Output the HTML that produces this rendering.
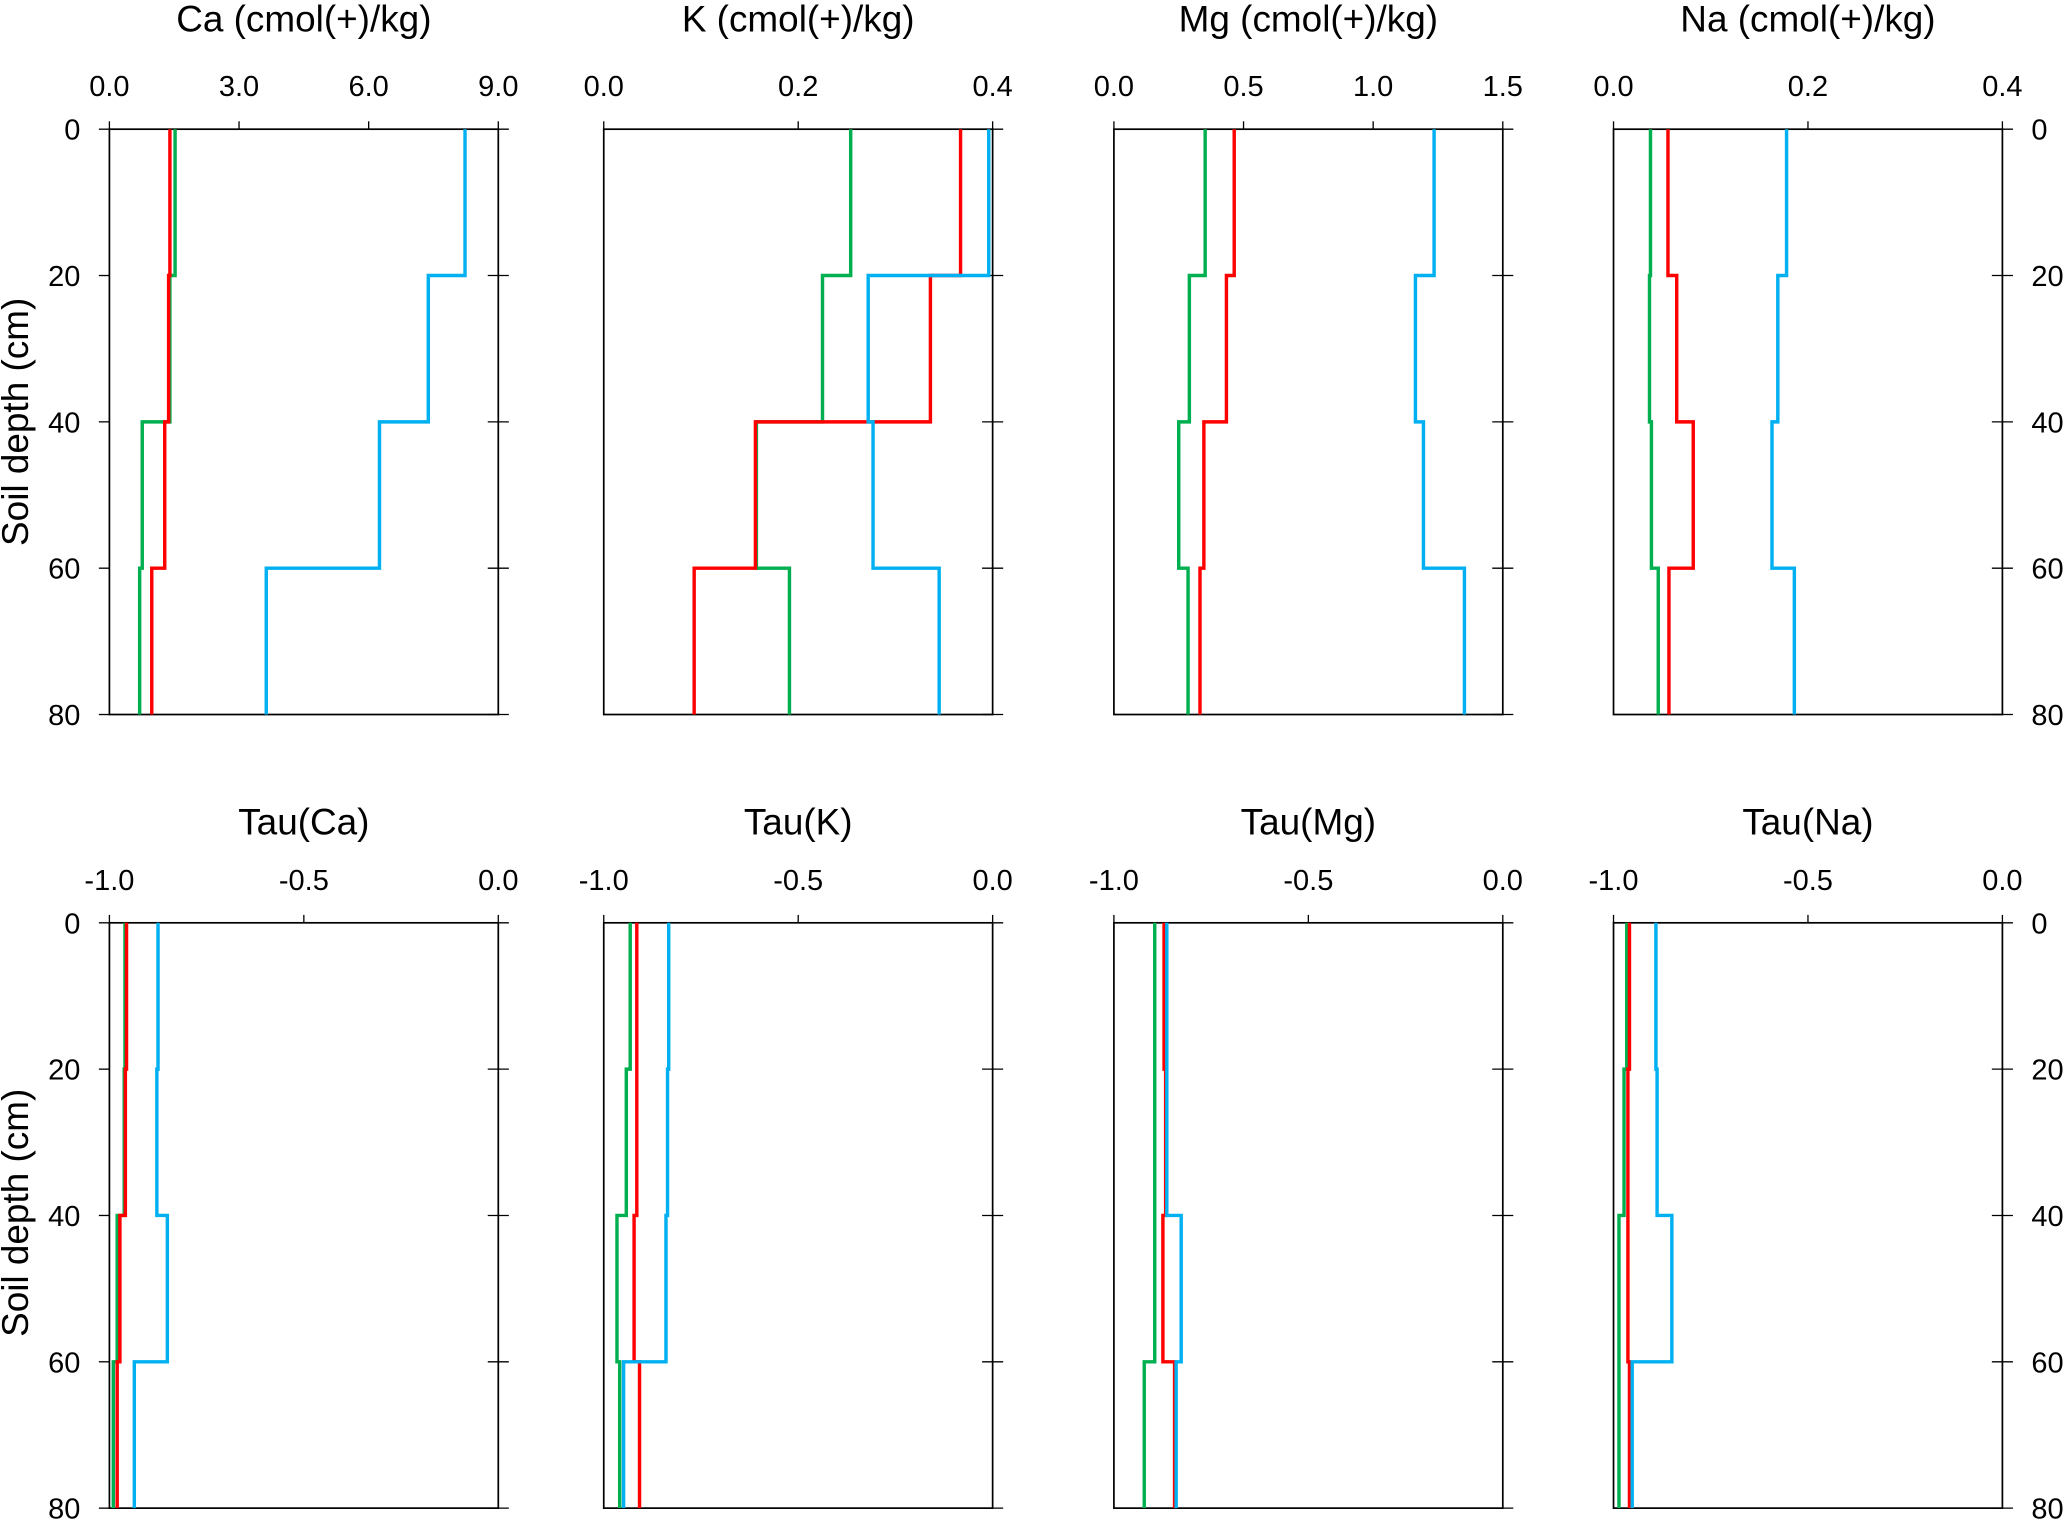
<!DOCTYPE html>
<html><head><meta charset="utf-8"><style>
html,body{margin:0;padding:0;background:#fff;}
svg{display:block;font-family:"Liberation Sans",sans-serif;}
</style></head><body>
<svg id="chart" width="2067" height="1520" viewBox="0 0 1568 1153" preserveAspectRatio="none" xmlns="http://www.w3.org/2000/svg"></svg>
<script>
const depths = [0, 20, 40, 60, 80];
const depthTicks = [0, 20, 40, 60, 80];
const panelTitles = ["Ca (cmol(+)/kg)", "K (cmol(+)/kg)", "Mg (cmol(+)/kg)", "Na (cmol(+)/kg)", "Tau(Ca)", "Tau(K)", "Tau(Mg)", "Tau(Na)"];
const xMins = [0, 0, 0, 0, -1, -1, -1, -1];
const xMaxs = [9, 0.4, 1.5, 0.4, 0, 0, 0, 0];
const xTickSets = [[0,3,6,9],[0,0.2,0.4],[0,0.5,1,1.5],[0,0.2,0.4],[-1,-0.5,0],[-1,-0.5,0],[-1,-0.5,0],[-1,-0.5,0]];
const redSeries = [
 [1.40,1.37,1.28,0.98],[0.367,0.336,0.156,0.093],[0.464,0.434,0.347,0.332],[0.056,0.065,0.082,0.057],
 [-0.956,-0.959,-0.973,-0.980],[-0.915,-0.915,-0.922,-0.908],[-0.871,-0.867,-0.874,-0.844],[-0.959,-0.963,-0.963,-0.959]];
const greenSeries = [
 [1.52,1.40,0.76,0.70],[0.254,0.225,0.157,0.191],[0.352,0.291,0.250,0.286],[0.038,0.037,0.039,0.046],
 [-0.960,-0.962,-0.980,-0.990],[-0.932,-0.942,-0.966,-0.959],[-0.895,-0.895,-0.895,-0.922],[-0.966,-0.973,-0.986,-0.986]];
const blueSeries = [
 [8.23,7.38,6.25,3.63],[0.396,0.272,0.277,0.345],[1.235,1.163,1.194,1.352],[0.178,0.169,0.163,0.186],
 [-0.875,-0.878,-0.851,-0.936],[-0.833,-0.836,-0.840,-0.949],[-0.864,-0.864,-0.827,-0.840],[-0.891,-0.888,-0.850,-0.952]];

const NS = "http://www.w3.org/2000/svg";
const svg = document.getElementById("chart");
const panelX = [83, 458, 845, 1224];
const panelW = 295;
const rowTop = [98, 700];
const panelH = 444;
function mk(tag, attrs, parent){const e=document.createElementNS(NS,tag);for(const k in attrs)e.setAttribute(k,attrs[k]);(parent||svg).appendChild(e);return e;}
function fmt(v){return v.toFixed(1);}

for(let p=0;p<8;p++){
  const col=p%4,row=Math.floor(p/4);
  const x0=panelX[col],y0=rowTop[row];
  const g=mk("g",{});
  
  
  const xs=v=>x0+(v-xMins[p])/(xMaxs[p]-xMins[p])*panelW;
  const ys=d=>y0+d/80*panelH;
  const t=mk("text",{x:x0+panelW/2,y:row?633:24,"text-anchor":"middle","font-size":28,fill:"#000"},g);
  t.textContent=panelTitles[p];
  
  
  const fr=mk("rect",{x:x0,y:y0,width:panelW,height:panelH,fill:"none",stroke:"#000","stroke-width":1.3},g);
  
  
  xTickSets[p].forEach(v=>{
    mk("line",{x1:xs(v),x2:xs(v),y1:y0,y2:y0-6,stroke:"#000","stroke-width":1},g);
    const tl=mk("text",{x:xs(v),y:y0-25,"text-anchor":"middle","font-size":22,fill:"#000"},g);
    tl.textContent=fmt(v);
    
    
  });
  depthTicks.forEach(d=>{
    mk("line",{x1:x0+panelW-8,x2:x0+panelW+8,y1:ys(d),y2:ys(d),stroke:"#000","stroke-width":1},g);
    if(col===0){
      mk("line",{x1:x0-8,x2:x0,y1:ys(d),y2:ys(d),stroke:"#000","stroke-width":1},g);
      const yl=mk("text",{x:x0-22,y:ys(d)+8,"text-anchor":"end","font-size":22,fill:"#000"},g);
      yl.textContent=d;
      
      
    }
    if(col===3){
      const yl=mk("text",{x:x0+panelW+22,y:ys(d)+8,"text-anchor":"start","font-size":22,fill:"#000"},g);
      yl.textContent=d;
      
      
    }
  });
  [["green",greenSeries,"#00b050"],["red",redSeries,"#ff0000"],["blue",blueSeries,"#00b0f0"]].forEach(([nm,ser,c])=>{
    const vals=ser[p];
    let d="M"+xs(vals[0])+","+ys(depths[0]);
    for(let i=0;i<vals.length;i++){
      if(i>0)d+=" H"+xs(vals[i]);
      d+=" V"+ys(depths[i+1]);
    }
    const pa=mk("path",{d:d,fill:"none",stroke:c,"stroke-width":2.6},g);
    
    
  });
}
[320,920].forEach(cy=>{
  const a=mk("text",{x:14,y:cy,"text-anchor":"middle","font-size":28,fill:"#000",transform:"rotate(-90 14 "+cy+")","dominant-baseline":"middle"});
  a.textContent="Soil depth (cm)";
  
  
});
</script>
</body></html>
